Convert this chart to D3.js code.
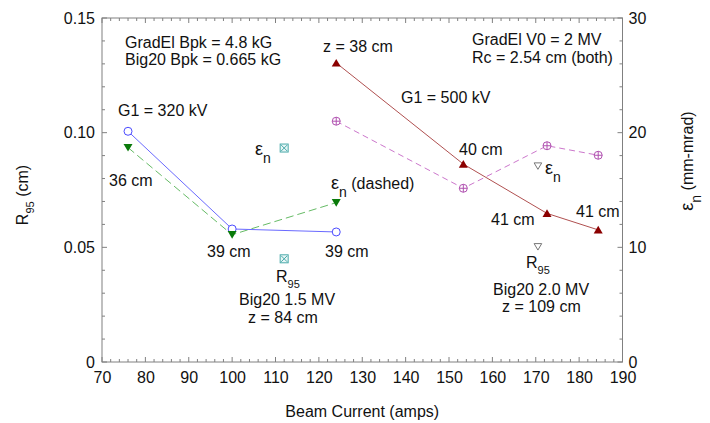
<!DOCTYPE html>
<html>
<head>
<meta charset="utf-8">
<script src="https://d3js.org/d3.v7.min.js"></script>
<style>
  body { margin: 0; background: #fff; }
  svg text { font-family: "Liberation Sans", Arial, sans-serif; fill: #111; }
</style>
</head>
<body>
<div id="chart"></div>
<script>
// beam current (amps)
const currentG320 = [76, 100, 124];
const r95G320 = [0.1006, 0.0580, 0.0567];
const emitG320 = [18.7, 11.1, 13.9];

const currentG500 = [124, 153.3, 172.6, 184.4];
const r95G500 = [0.1304, 0.0863, 0.0648, 0.0576];
const emitG500 = [21.0, 15.15, 18.86, 18.03];

// Big20 single points: 1.5 MV, 2.0 MV
const currentBig20 = [112, 170.5];
const r95Big20 = [0.0450, 0.0503];
const emitBig20 = [18.66, 17.1];

const xTicks = [70, 80, 90, 100, 110, 120, 130, 140, 150, 160, 170, 180, 190];
const leftTicks = [0, 0.05, 0.10, 0.15];
const rightTicks = [0, 10, 20, 30];

const W = 710, H = 423;
const margin = { top: 18, right: 87.5, bottom: 61, left: 102 };
const width = W - margin.left - margin.right,
      height = H - margin.top - margin.bottom;

const svg = d3.select("#chart").append("svg")
    .attr("width", W).attr("height", H);
const g = svg.append("g")
    .attr("transform", "translate(" + margin.left + "," + margin.top + ")");

const x = d3.scaleLinear().domain([70, 190]).range([0, width]);
const yL = d3.scaleLinear().domain([0, 0.15]).range([height, 0]);
const yR = d3.scaleLinear().domain([0, 30]).range([height, 0]);

const axisColor = "#808080";

// frame
g.append("rect").attr("width", width).attr("height", height)
    .attr("fill", "none").attr("stroke", axisColor).attr("stroke-width", 1);

// minor ticks (inward) on all four sides
const xMinor = d3.range(70, 190.1, 2);
const yMinor = d3.range(0, 0.1501, 0.01);
const tick = g.append("g").attr("stroke", axisColor).attr("stroke-width", 1);
xMinor.forEach(v => {
    const big = xTicks.includes(Math.round(v));
    const len = big ? 5 : 3;
    tick.append("line").attr("x1", x(v)).attr("x2", x(v)).attr("y1", height).attr("y2", height - len);
    tick.append("line").attr("x1", x(v)).attr("x2", x(v)).attr("y1", 0).attr("y2", len);
});
yMinor.forEach((v, i) => {
    const len = i % 5 === 0 ? 5 : 3;
    tick.append("line").attr("y1", yL(v)).attr("y2", yL(v)).attr("x1", 0).attr("x2", len);
    tick.append("line").attr("y1", yL(v)).attr("y2", yL(v)).attr("x1", width).attr("x2", width - len);
});

// tick labels via axes (tick lines hidden, frame drawn above)
const fmtL = d => d === 0 ? "0" : d3.format(".2f")(d);
const xAxis = g.append("g").attr("transform", "translate(0," + height + ")")
    .call(d3.axisBottom(x).tickValues(xTicks).tickSize(0).tickPadding(10).tickFormat(d3.format("d")));
const lAxis = g.append("g")
    .call(d3.axisLeft(yL).tickValues(leftTicks).tickSize(0).tickPadding(7).tickFormat(fmtL));
const rAxis = g.append("g").attr("transform", "translate(" + width + ",0)")
    .call(d3.axisRight(yR).tickValues(rightTicks).tickSize(0).tickPadding(6).tickFormat(d3.format("d")));
[xAxis, lAxis, rAxis].forEach(a => {
    a.select(".domain").remove();
    a.selectAll("text").attr("font-size", 16).attr("fill", "#111")
        .attr("font-family", "Liberation Sans, Arial, sans-serif");
});

// lines
const ptsG320R = currentG320.map((c, i) => [x(c), yL(r95G320[i])]);
const ptsG320E = currentG320.map((c, i) => [x(c), yR(emitG320[i])]);
const ptsG500R = currentG500.map((c, i) => [x(c), yL(r95G500[i])]);
const ptsG500E = currentG500.map((c, i) => [x(c), yR(emitG500[i])]);
const line = d3.line();

g.append("path").attr("d", line(ptsG320E)).attr("fill", "none")
    .attr("stroke", "#66bb66").attr("stroke-width", 1).attr("stroke-dasharray", "8,4");
g.append("path").attr("d", line(ptsG320R)).attr("fill", "none")
    .attr("stroke", "#6a6aff").attr("stroke-width", 1);
g.append("path").attr("d", line(ptsG500E)).attr("fill", "none")
    .attr("stroke", "#cc77cc").attr("stroke-width", 1).attr("stroke-dasharray", "6,4");
g.append("path").attr("d", line(ptsG500R)).attr("fill", "none")
    .attr("stroke", "#b05050").attr("stroke-width", 1);

// marker helpers
function triDown(p, s) {
    return "M" + (p[0] - s) + "," + (p[1] - s * 0.8) + "L" + (p[0] + s) + "," + (p[1] - s * 0.8) +
        "L" + p[0] + "," + (p[1] + s * 0.9) + "Z";
}
function triUp(p, s) {
    return "M" + (p[0] - s) + "," + (p[1] + s * 0.8) + "L" + (p[0] + s) + "," + (p[1] + s * 0.8) +
        "L" + p[0] + "," + (p[1] - s * 0.9) + "Z";
}

// G1 = 320 kV : R95 open blue circles
g.selectAll(".c320").data(ptsG320R).enter().append("circle")
    .attr("cx", d => d[0]).attr("cy", d => d[1]).attr("r", 4)
    .attr("fill", "#fff").attr("stroke", "#4a4aff").attr("stroke-width", 1);
// G1 = 320 kV : emittance green filled triangles down
g.selectAll(".t320").data(ptsG320E).enter().append("path")
    .attr("d", d => triDown(d, 4.5)).attr("fill", "#0a7a0a");

// G1 = 500 kV : emittance circled plus
const cp = g.selectAll(".cp500").data(ptsG500E).enter().append("g")
    .attr("transform", d => "translate(" + d[0] + "," + d[1] + ")")
    .attr("stroke", "#b050b0").attr("stroke-width", 1).attr("fill", "none");
cp.append("circle").attr("r", 4).attr("fill", "#fff");
cp.append("path").attr("d", "M-4,0H4M0,-4V4");
// G1 = 500 kV : R95 dark red triangles up
g.selectAll(".t500").data(ptsG500R).enter().append("path")
    .attr("d", d => triUp(d, 4.5)).attr("fill", "#8b0000");

// Big20 1.5 MV : boxed X (both R95 and emittance)
const box = g.selectAll(".box").data([[x(currentBig20[0]), yR(emitBig20[0])], [x(currentBig20[0]), yL(r95Big20[0])]])
    .enter().append("g")
    .attr("transform", d => "translate(" + d[0] + "," + d[1] + ")")
    .attr("stroke", "#4aaaaa").attr("stroke-width", 1).attr("fill", "none");
box.append("rect").attr("x", -4).attr("y", -4).attr("width", 8).attr("height", 8).attr("fill", "#e8f6f6");
box.append("path").attr("d", "M-3,-3L3,3M3,-3L-3,3");

// Big20 2.0 MV : open gray triangles down
g.selectAll(".tg").data([[x(currentBig20[1]), yR(emitBig20[1])], [x(currentBig20[1]), yL(r95Big20[1])]])
    .enter().append("path")
    .attr("d", d => triDown(d, 3.8)).attr("fill", "#fff").attr("stroke", "#777").attr("stroke-width", 1);

// annotations (page coordinates)
const ann = svg.append("g").attr("font-size", 16);
function label(tx, px, py) {
    ann.append("text").attr("x", px).attr("y", py).text(tx);
}
function sub(main, s, px, py, mainSize, subSize, subDy, rest) {
    const t = ann.append("text").attr("x", px).attr("y", py);
    t.append("tspan").attr("font-size", mainSize).text(main);
    t.append("tspan").attr("font-size", subSize).attr("dy", subDy).text(s);
    if (rest) t.append("tspan").attr("dy", -subDy).text(rest);
    return t;
}
label("GradEl Bpk = 4.8 kG", 125, 48);
label("Big20 Bpk = 0.665 kG", 125, 65);
label("G1 = 320 kV", 118, 116);
label("36 cm", 109, 186);
sub("\u03b5", "n", 255, 155, 18, 14, 8);
label("z = 38 cm", 323, 52);
label("GradEl V0 = 2 MV", 472, 45);
label("Rc = 2.54 cm (both)", 472, 63);
label("G1 = 500 kV", 401, 103);
label("40 cm", 459, 155);
sub("\u03b5", "n", 545, 174, 18, 14, 8);
sub("\u03b5", "n", 331, 189, 18, 14, 8, " (dashed)");
label("39 cm", 207, 257);
label("39 cm", 325, 257);
sub("R", "95", 276, 282, 16, 11, 6);
label("Big20 1.5 MV", 239, 305);
label("z = 84 cm", 248, 323);
label("41 cm", 491, 225);
label("41 cm", 576, 217);
sub("R", "95", 526, 268, 16, 11, 6);
label("Big20 2.0 MV", 493, 295);
label("z = 109 cm", 502, 312);

// axis titles
svg.append("text").attr("x", margin.left + width / 2).attr("y", 417)
    .attr("text-anchor", "middle").attr("font-size", 16).text("Beam Current (amps)");

const lt = svg.append("text").attr("transform", "translate(28,195) rotate(-90)")
    .attr("text-anchor", "middle").attr("font-size", 16);
lt.append("tspan").text("R");
lt.append("tspan").attr("font-size", 11).attr("dy", 6).text("95");
lt.append("tspan").attr("dy", -6).text(" (cm)");

const rt = svg.append("text").attr("transform", "translate(693,161) rotate(-90)")
    .attr("text-anchor", "middle").attr("font-size", 16);
rt.append("tspan").attr("font-size", 18).text("\u03b5");
rt.append("tspan").attr("font-size", 14).attr("dy", 8).text("n");
rt.append("tspan").attr("dy", -8).text(" (mm-mrad)");
</script>
</body>
</html>
